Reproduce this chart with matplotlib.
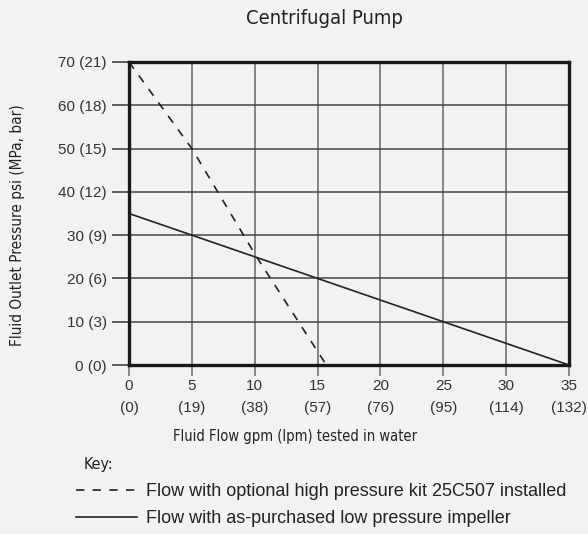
import matplotlib
matplotlib.use("Agg")
import matplotlib.pyplot as plt

# data
flow_ticks = [0, 5, 10, 15, 20, 25, 30, 35]
flow_lpm = [0, 19, 38, 57, 76, 95, 114, 132]
psi_ticks = [0, 10, 20, 30, 40, 50, 60, 70]
psi_bar = [0, 3, 6, 9, 12, 15, 18, 21]

hp_flow = [0, 5, 10.1, 15.7]
hp_psi = [70, 50, 25.2, 0]
lp_flow = [0, 35]
lp_psi = [35, 0]

REG = ["Liberation Sans", "DejaVu Sans"]
BG = "#f2f2f2"
INK = "#222222"


def narrow(size):
    return dict(family="DejaVu Sans", stretch="condensed", fontsize=size,
                color=INK)


fig = plt.figure(figsize=(5.88, 5.34), dpi=100, facecolor=BG)
ax = fig.add_axes([129 / 588, 1 - 365 / 534, 440 / 588, 303 / 534])
ax.set_facecolor(BG)

ax.plot(hp_flow, hp_psi, color=INK, lw=1.2, ls=(0, (5, 5)),
        label="Flow with optional high pressure kit 25C507 installed")
ax.plot(lp_flow, lp_psi, color=INK, lw=1.2,
        label="Flow with as-purchased low pressure impeller")

ax.set_xlim(0, 35)
ax.set_ylim(0, 70)
ax.set_xticks(flow_ticks)
ax.set_xticklabels([f"{a}\n({b})" for a, b in zip(flow_ticks, flow_lpm)],
                   family=REG, fontsize=11, color="#333333", linespacing=1.75)
ax.set_yticks(psi_ticks)
ax.set_yticklabels([f"{a} ({b})" for a, b in zip(psi_ticks, psi_bar)],
                   family=REG, fontsize=11, color="#333333")
ax.tick_params(axis="y", length=12, width=1.2, color="#444444", pad=4)
ax.tick_params(axis="x", length=8, width=1.2, color="#777777", pad=2)

ax.grid(axis="x", color="#7a7a7a", lw=1.3)
ax.grid(axis="y", color="#444444", lw=1.1)
ax.set_axisbelow(True)
for s in ax.spines.values():
    s.set_linewidth(2.4)
    s.set_color("#1a1a1a")

fig.text(324 / 588, 1 - 19 / 534, "Centrifugal Pump", ha="center",
         va="center", **narrow(14.5))
fig.text(18 / 588, 1 - 225 / 534, "Fluid Outlet Pressure psi (MPa, bar)",
         rotation=90, ha="center", va="center", **narrow(11))
fig.text(295 / 588, 1 - 437 / 534, "Fluid Flow gpm (lpm) tested in water",
         ha="center", va="center", **narrow(10.5))
fig.text(84 / 588, 1 - 464 / 534, "Key:", ha="left", va="center",
         **narrow(11.5))

fig.legend(loc="upper left", bbox_to_anchor=(76 / 588, 1 - 483 / 534),
           frameon=False, prop={"family": REG, "size": 13},
           handlelength=3.4, handletextpad=0.5, labelspacing=0.55,
           borderaxespad=0, borderpad=0, labelcolor="#222222")

fig.savefig("out.png", dpi=100, facecolor=BG)
